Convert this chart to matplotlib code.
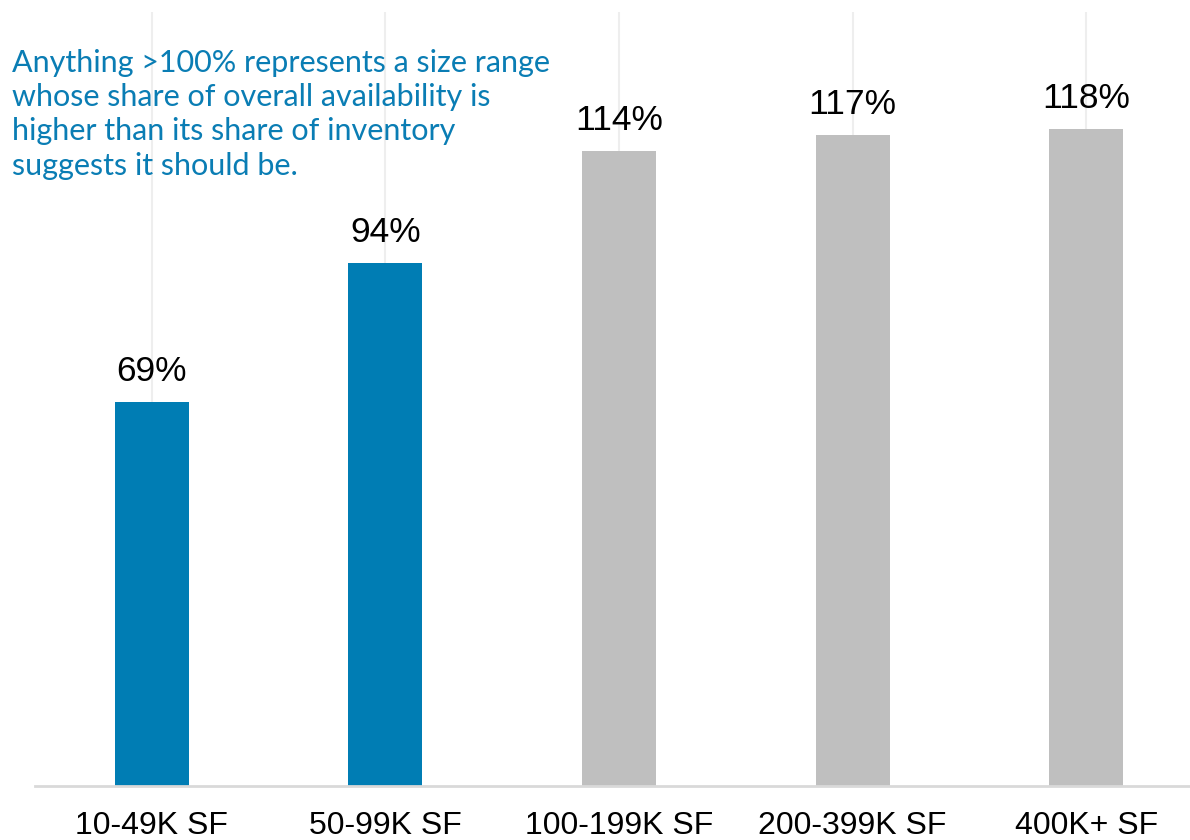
import matplotlib.pyplot as plt
import numpy as np

# share of availability relative to share of inventory, by building size
categories = ["10-49K SF", "50-99K SF", "100-199K SF", "200-399K SF", "400K+ SF"]
values = [69, 94, 114, 117, 118]
bar_colors = ["#007DB4", "#007DB4", "#BFBFBF", "#BFBFBF", "#BFBFBF"]
note = ("Anything >100% represents a size range\n"
        "whose share of overall availability is\n"
        "higher than its share of inventory\n"
        "suggests it should be.")

plt.rcParams["font.family"] = ["Liberation Sans", "DejaVu Sans"]

fig = plt.figure(figsize=(11.9, 8.4), dpi=100)
# axes runs a little past the right edge so the last category is centred at the usual spacing
ax = fig.add_axes([35 / 1190, (840 - 786) / 840, 1168 / 1190, (786 - 12) / 840])

x = np.arange(len(categories))
ax.bar(x, values, width=0.317, color=bar_colors, zorder=2)

for xi in x:
    ax.axvline(xi, color="#EEEEEE", lw=1.5, zorder=1)

for xi, v in zip(x, values):
    ax.annotate(f"{v}%", (xi, v), xytext=(0, 10), textcoords="offset points",
                ha="center", va="bottom", fontsize=25.5, color="black")

ax.set_xlim(-0.5, 4.5)
ax.set_ylim(0, 139)
ax.set_yticks([])
ax.set_xticks(x)
ax.set_xticklabels(categories, fontsize=23)
ax.tick_params(axis="x", length=0, pad=18)
for side in ["top", "right", "left"]:
    ax.spines[side].set_visible(False)
ax.spines["bottom"].set_color("#D9D9D9")
ax.spines["bottom"].set_linewidth(2)

fig.text(12 / 1190, 1 - 49 / 840, note, ha="left", va="top", fontsize=22,
         color="#0A7DB4", linespacing=1.27, family=["Lato", "DejaVu Sans"])

fig.savefig("out.png", dpi=100)
